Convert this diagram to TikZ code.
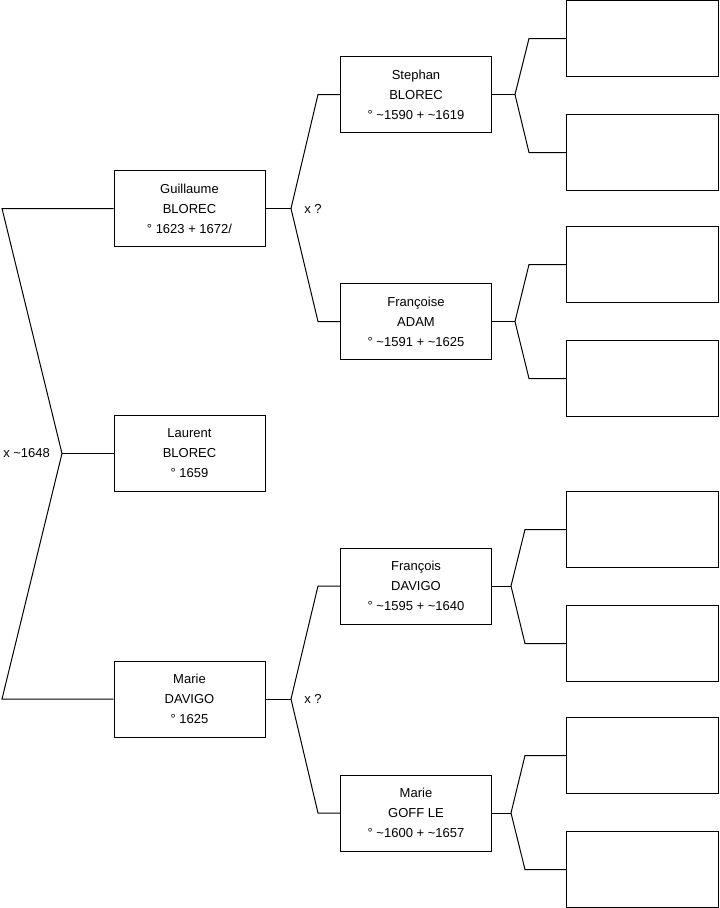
\documentclass[tikz,border=0pt]{standalone}
\usepackage{fontspec}
\setsansfont{Liberation Sans}
\usetikzlibrary{positioning}
\tikzset{
  gnbox/.style={draw,fill=white,line width=0.75pt,inner sep=0pt,align=center,font=\sffamily\fontsize{9.75}{15}\selectfont,minimum width=113.25pt,minimum height=57pt},
  gnempty/.style={draw,fill=white,line width=0.75pt,inner sep=0pt,outer sep=0pt,minimum width=114pt,minimum height=57pt},
  gnline/.style={line width=0.75pt,line join=miter},
  gnlabel/.style={font=\sffamily\fontsize{9.75}{15}\selectfont,anchor=west,inner sep=0pt},
}

\begin{document}
\begin{tikzpicture}[x=0.75pt,y=-0.75pt,node distance=28.5pt]
\useasboundingbox (0,0) rectangle (719,908);
% children
\node[gnbox] (guil) at (189.5,208.5) {Guillaume\\BLOREC\\° 1623 + 1672/};
\node[gnbox] (laur) at (189.5,453.5) {Laurent\\BLOREC\\° 1659};
\node[gnbox] (mdav) at (189.5,699) {Marie\\DAVIGO\\° 1625};
% parents
\node[gnbox] (step) at (416,94.5) {Stephan\\BLOREC\\° \textasciitilde1590 + \textasciitilde1619};
\node[gnbox] (fadam) at (416,321.5) {Françoise\\ADAM\\° \textasciitilde1591 + \textasciitilde1625};
\node[gnbox] (fdav) at (416,586) {François\\DAVIGO\\° \textasciitilde1595 + \textasciitilde1640};
\node[gnbox] (mgoff) at (416,813) {Marie\\GOFF LE\\° \textasciitilde1600 + \textasciitilde1657};
% grandparents (empty)
\node[gnempty] (step1) at (642.5,38.5) {};
\node[gnempty,below=of step1] (step2) {};
\node[gnempty] (fadam1) at (642.5,264.5) {};
\node[gnempty,below=of fadam1] (fadam2) {};
\node[gnempty] (fdav1) at (642.5,529.5) {};
\node[gnempty,below=of fdav1] (fdav2) {};
\node[gnempty] (mgoff1) at (642.5,755.5) {};
\node[gnempty,below=of mgoff1] (mgoff2) {};

% fork points
\coordinate (kt) at (2,208.5);
\coordinate (km) at (62,453.5);
\coordinate (kb) at (2,699);
\coordinate (gv) at (291,208.5);
\coordinate (gu) at (318,94.5);
\coordinate (gd) at (318,321.5);
\coordinate (mv) at (291,699);
\coordinate (mu) at (318,586);
\coordinate (md) at (318,813);
\coordinate (sv) at (515,94.5);
\coordinate (su) at (529,38.5);
\coordinate (sd) at (529,152.5);
\coordinate (av) at (515,321.5);
\coordinate (au) at (529,264.5);
\coordinate (ad) at (529,378.5);
\coordinate (dv) at (511,586);
\coordinate (du) at (525,529.5);
\coordinate (dd) at (525,643.5);
\coordinate (ov) at (511,813);
\coordinate (ou) at (525,755.5);
\coordinate (od) at (525,869.5);

\draw[gnline](guil.west)--(kt)--(km)--(kb)--(mdav.west);\draw[gnline](km)--(laur.west);
\draw[gnline](step.west)--(gu)--(gv)--(gd)--(fadam.west);\draw[gnline](guil.east)--(gv);
\draw[gnline](fdav.west)--(mu)--(mv)--(md)--(mgoff.west);\draw[gnline](mdav.east)--(mv);
\draw[gnline](step1.west)--(su)--(sv)--(sd)--(step2.west);\draw[gnline](step.east)--(sv);
\draw[gnline](fadam1.west)--(au)--(av)--(ad)--(fadam2.west);\draw[gnline](fadam.east)--(av);
\draw[gnline](fdav1.west)--(du)--(dv)--(dd)--(fdav2.west);\draw[gnline](fdav.east)--(dv);
\draw[gnline](mgoff1.west)--(ou)--(ov)--(od)--(mgoff2.west);\draw[gnline](mgoff.east)--(ov);

\node[gnlabel] (xk) at (3,453) {x \textasciitilde1648};
\node[gnlabel] (xg) at (304,208.5) {x ?};
\node[gnlabel] (xm) at (304,699) {x ?};
\end{tikzpicture}
\end{document}
